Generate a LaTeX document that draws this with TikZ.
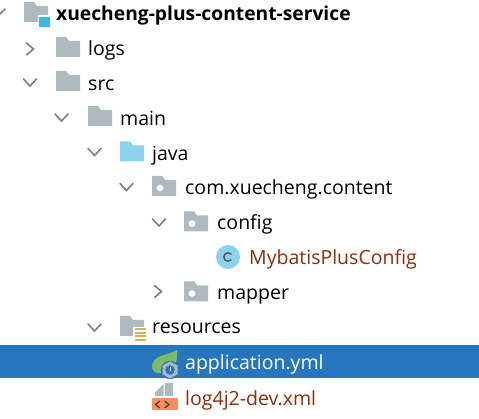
\documentclass[tikz,border=0pt]{standalone}
\usepackage{fontspec}
\setmainfont{Open Sans}
\definecolor{fgrey}{HTML}{AFB9C0}
\definecolor{fblue}{HTML}{8BD3EC}
\definecolor{chev}{HTML}{7F7F7F}
\definecolor{rowsel}{HTML}{2675BF}
\definecolor{brownred}{HTML}{8C2E0B}
\definecolor{modblue}{HTML}{3DB7E4}
\definecolor{resy}{HTML}{E3AE4D}
\definecolor{leaf}{HTML}{7DBB63}
\definecolor{xmlo}{HTML}{F58E63}
\definecolor{xmld}{HTML}{6B3A22}
\newcommand{\folderpath}[3]{\fill[#3] (#1,#2+10) -- (#1,#2-10) -- (#1+10,#2-10) -- (#1+13,#2-6) -- (#1+24,#2-6) -- (#1+24,#2+10) -- cycle;}
\newcommand{\pkgfolder}[2]{\folderpath{#1}{#2}{fgrey}\fill[white] (#1+8,#2+2) circle (3.4);}
\tikzset{
  x=1pt,y=-1pt,
  lbl/.style={anchor=base west,inner sep=0pt,font=\fontsize{19.5}{20}\selectfont},
  chevd/.style={draw=chev,line width=1.6pt,line cap=round},
}
\newcommand{\cdown}[2]{\draw[chevd] (#1-6.5,#2-3.5) -- (#1,#2+3.5) -- (#1+6.5,#2-3.5);}
\newcommand{\cright}[2]{\draw[chevd] (#1-3.5,#2-6) -- (#1+3.5,#2) -- (#1-3.5,#2+6);}
\begin{document}
\begin{tikzpicture}
\useasboundingbox (0,0) rectangle (479,419);
\fill[white] (0,0) rectangle (479,419);
\fill[rowsel] (0,345) rectangle (479,378);
% chevrons
\cright{30}{49}
\cdown{30}{82.5}
\cdown{61.5}{117.5}
\cdown{94.5}{152}
\cdown{126.5}{187}
\cdown{159}{222.5}
\cright{158}{291.5}
\cdown{94.5}{327.5}
\draw[chevd] (0,14) -- (5,9);
% root module
\folderpath{24}{12}{fgrey}
\fill[white] (38,15) rectangle (50,28);
\fill[modblue] (39,17) rectangle (50,27);
% plain folders
\folderpath{56}{47}{fgrey}
\folderpath{56}{81}{fgrey}
\folderpath{88}{116}{fgrey}
\folderpath{120}{151.5}{fblue}
\pkgfolder{152}{186}
\pkgfolder{184}{221.5}
\pkgfolder{184}{291.5}
% class icon
\fill[fblue] (228,257) circle (12);
\draw[draw=black!65,line width=1.5pt,line cap=round] (231,254) arc[start angle=-45,end angle=-315,radius=4.2];
% resources
\folderpath{120}{326}{fgrey}
\fill[white] (133,327) rectangle (147,342);
\foreach \yy in {329.5,333,336.5,340} {\fill[resy] (135,\yy-1) rectangle (146,\yy+1);}
% spring yml
\fill[leaf] (152,366) .. controls (153,355) and (166,356) .. (177,350) .. controls (178,360) and (176,372) .. (162,373) .. controls (155,374) and (152,371) .. (152,366) -- cycle;
\fill[rowsel] (170,370) circle (9.2);
\fill[fgrey] (170,361.5) -- (177.5,365.7) -- (177.5,374.3) -- (170,378.5) -- (162.5,374.3) -- (162.5,365.7) -- cycle;
\fill[rowsel] (170,370) circle (4.8);
\draw[white,line width=1pt] (170,366.5) -- (170,370.5);
% xml
\fill[fgrey] (155,396) -- (155,392.5) -- (163.5,384) -- (163.5,396) -- cycle;
\fill[fgrey] (165,383) rectangle (173,396);
\fill[xmlo] (152,398) rectangle (178,410);
\draw[xmld,line width=1.3pt] (160,401) -- (155.5,404.5) -- (160,408) (164.5,401) -- (169,404.5) -- (164.5,408);
% labels
\node[lbl,font=\fontsize{19.25}{20}\selectfont\bfseries] (root) at (56,21) {xuecheng-plus-content-service};
\node[lbl] (logs) at (88,56) {logs};
\node[lbl] (src) at (88,91) {src};
\node[lbl] (main) at (120,126) {main};
\node[lbl] (java) at (152,161) {java};
\node[lbl] (pkg) at (185,195) {com.xuecheng.content};
\node[lbl] (config) at (217,230) {config};
\node[lbl,text=brownred] (mpc) at (249,265) {MybatisPlusConfig};
\node[lbl] (mapper) at (217,300) {mapper};
\node[lbl] (res) at (152,334) {resources};
\node[lbl,text=white] (app) at (185,370) {application.yml};
\node[lbl,text=brownred] (log) at (185,405) {log4j2-dev.xml};
\end{tikzpicture}
\end{document}
